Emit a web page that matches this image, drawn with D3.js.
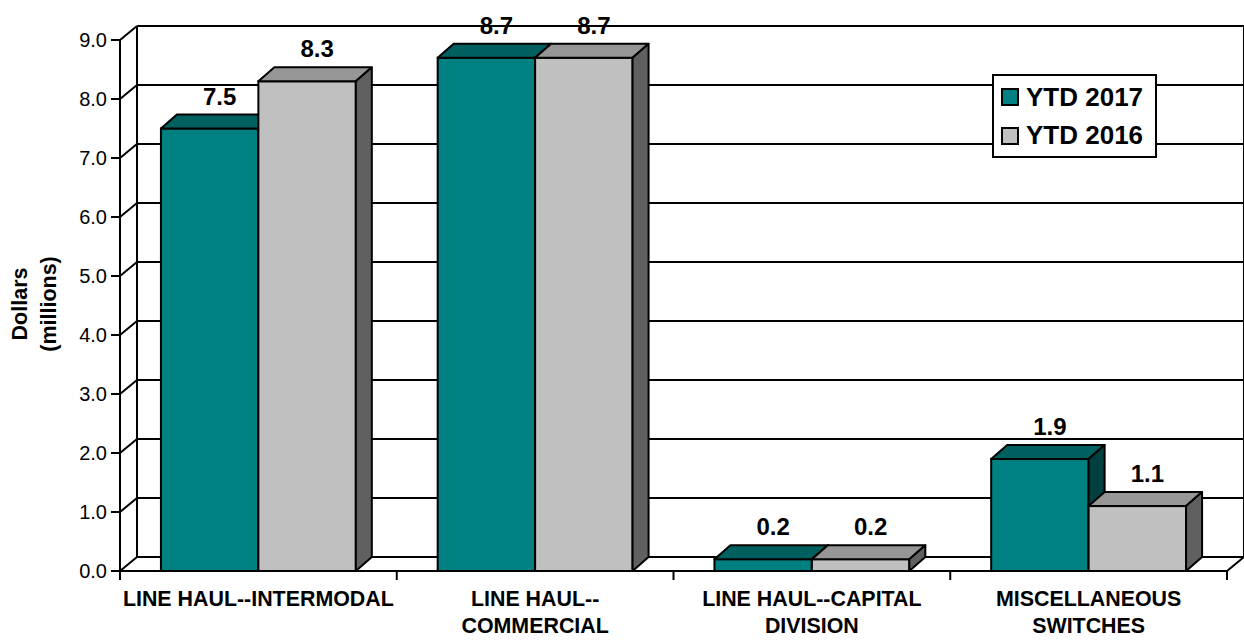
<!DOCTYPE html>
<html>
<head>
<meta charset="utf-8">
<script src="https://cdn.jsdelivr.net/npm/d3@7"></script>
<style>
html,body{margin:0;padding:0;background:#fff;}
svg{display:block;font-family:Arial,"Liberation Sans",sans-serif;}
</style>
</head>
<body>
<svg id="chart" width="1244" height="642"></svg>
<script>
// ---- data ----
const categories = ["LINE HAUL--INTERMODAL", "LINE HAUL--\nCOMMERCIAL", "LINE HAUL--CAPITAL\nDIVISION", "MISCELLANEOUS\nSWITCHES"];
const seriesNames = ["YTD 2017", "YTD 2016"];
const ytd2017 = [7.5, 8.7, 0.2, 1.9];
const ytd2016 = [8.3, 8.7, 0.2, 1.1];
const yTicks = [0, 1, 2, 3, 4, 5, 6, 7, 8, 9];
const yTitle = ["Dollars", "(millions)"];

// ---- styles ----
const seriesFront = ["#008080", "#c0c0c0"];
const seriesTop = ["#005f5f", "#969696"];
const seriesSide = ["#004040", "#606060"];

const svg = d3.select("#chart");
const left = 120, right = 1227, y0px = 571, ytop = 40;
const wdx = 17, wdy = 14;   // wall depth offset
const bdx = 16, bdy = 14;   // bar depth offset

const y = d3.scaleLinear().domain([0, 9]).range([y0px, ytop]);
const x0 = d3.scaleBand().domain(categories).range([left, right]).padding(0);
const x1 = d3.scaleBand().domain(seriesNames).range([0, x0.bandwidth()]).paddingInner(0).paddingOuter(0.42);

const g = svg.append("g");
const line = (x1_, y1_, x2_, y2_) => g.append("line").attr("x1", x1_).attr("y1", y1_).attr("x2", x2_).attr("y2", y2_)
  .attr("stroke", "#000").attr("stroke-width", 2);

// back wall gridlines
yTicks.forEach(v => {
  const yy = y(v) - wdy;
  line(left + wdx, yy, right + wdx, yy);
  line(left, y(v), left + wdx, yy);
});
// wall edges
line(left + wdx, y(9) - wdy, left + wdx, y(0) - wdy);
line(right + wdx, y(9) - wdy, right + wdx, y(0) - wdy);
line(right, y(0), right + wdx, y(0) - wdy);

// bars
const data = categories.map((c, i) => ({ c, vals: [ytd2017[i], ytd2016[i]] }));
data.forEach(d => {
  d.vals.forEach((v, si) => {
    const xs = x0(d.c) + x1(seriesNames[si]);
    const w = x1.bandwidth();
    const yt = y(v), yb = y(0);
    const bg = g.append("g");
    bg.append("rect").attr("x", xs).attr("y", yt).attr("width", w).attr("height", yb - yt)
      .attr("fill", seriesFront[si]).attr("stroke", "#000").attr("stroke-width", 2);
    bg.append("polygon").attr("points", [[xs, yt], [xs + bdx, yt - bdy], [xs + w + bdx, yt - bdy], [xs + w, yt]].join(" "))
      .attr("fill", seriesTop[si]).attr("stroke", "#000").attr("stroke-width", 2).attr("stroke-linejoin", "round");
    bg.append("polygon").attr("points", [[xs + w, yt], [xs + w + bdx, yt - bdy], [xs + w + bdx, yb - bdy], [xs + w, yb]].join(" "))
      .attr("fill", seriesSide[si]).attr("stroke", "#000").attr("stroke-width", 2).attr("stroke-linejoin", "round");
  });
});

// front axis lines
line(left, y(9), left, y(0) + 9);
line(left, y(0), right, y(0));
// y ticks
yTicks.forEach(v => {
  line(left - 9, y(v), left, y(v));
  g.append("text").attr("x", 107).attr("y", y(v) + 7).attr("text-anchor", "end")
    .attr("font-size", 20).attr("fill", "#000").text(d3.format(".1f")(v));
});
// category ticks
x0.domain().concat([null]).forEach((c, i) => {
  const xx = c === null ? right : x0(c);
  line(xx, y(0), xx, y(0) + 9);
});
// category labels
categories.forEach(c => {
  const lines = c.split("\n");
  const t = g.append("text").attr("text-anchor", "middle").attr("font-weight", "bold").attr("font-size", 21.4).attr("fill", "#000");
  lines.forEach((ln, k) => {
    t.append("tspan").attr("x", x0(c) + x0.bandwidth() / 2).attr("y", 606 + k * 27).text(ln);
  });
});

// value labels
data.forEach(d => {
  d.vals.forEach((v, si) => {
    const xs = x0(d.c) + x1(seriesNames[si]);
    const w = x1.bandwidth();
    g.append("text").attr("x", xs + w / 2 + bdx / 2 + 2).attr("y", y(v) - bdy - 10)
      .attr("text-anchor", "middle").attr("font-weight", "bold").attr("font-size", 24).attr("fill", "#000")
      .text(d3.format(".1f")(v));
  });
});

// y title
const yt = g.append("text").attr("transform", "translate(0,304) rotate(-90)").attr("text-anchor", "middle")
  .attr("font-weight", "bold").attr("font-size", 21.5).attr("fill", "#000");
yTitle.forEach((s, k) => yt.append("tspan").attr("x", 0).attr("y", 27 + k * 29).text(s));

// legend
const lg = g.append("g");
lg.append("rect").attr("x", 993).attr("y", 75).attr("width", 163).attr("height", 82)
  .attr("fill", "#fff").attr("stroke", "#000").attr("stroke-width", 2);
seriesNames.forEach((s, i) => {
  lg.append("rect").attr("x", 1002).attr("y", 89 + i * 39).attr("width", 16).attr("height", 16)
    .attr("fill", seriesFront[i]).attr("stroke", "#000").attr("stroke-width", 2);
  lg.append("text").attr("x", 1026).attr("y", 106 + i * 38).attr("font-weight", "bold").attr("font-size", 26)
    .attr("fill", "#000").text(s);
});
</script>
</body>
</html>
